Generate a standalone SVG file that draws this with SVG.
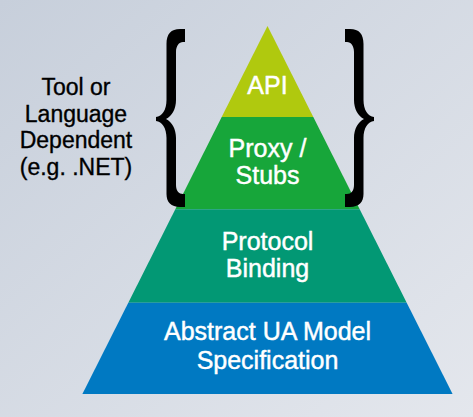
<svg xmlns="http://www.w3.org/2000/svg" width="473" height="417" viewBox="0 0 473 417">
<defs>
<linearGradient id="bg" x1="0" y1="0" x2="1" y2="1">
<stop offset="0" stop-color="#c7cfdb"/>
<stop offset="1" stop-color="#e4e7ed"/>
</linearGradient>
<style>
.lbl{font-family:"Liberation Sans",Arial,sans-serif;font-size:25px;fill:#ffffff;stroke:#ffffff;stroke-width:0.45;text-anchor:middle}
.side{font-family:"Liberation Sans",Arial,sans-serif;font-size:23px;fill:#000000;stroke:#000000;stroke-width:0.35;text-anchor:middle}
.brace{fill:#000000;stroke:none}
</style>
<path id="bracePath" d="M185,29 L180,29 C171,29 166.5,34 166.5,44 L166.5,100 C166.5,110 162,116.5 156,117 L156,121 C162,121.5 166.5,128 166.5,138 L166.5,194 C166.5,202 171,207 180,207 L185,207 L185,194 L183,194 C179,194 176,191 176,185 L176,138 C176,129 172,122 166,119 C172,116 176,109 176,100 L176,52 C176,46 179,42 183,42 L185,42 Z"/>
</defs>
<rect x="0" y="0" width="473" height="417" fill="url(#bg)"/>
<g id="api">
<polygon points="267.5,26 313.3,117 221.7,117" fill="#b0c90e"/>
<text class="lbl" x="267.5" y="94">API</text>
</g>
<g id="proxy">
<polygon points="221.7,117 313.3,117 359.7,209.3 175.3,209.3" fill="#17a63a"/>
<text class="lbl" x="267.5" y="157">Proxy /</text>
<text class="lbl" x="267.5" y="184">Stubs</text>
</g>
<g id="protocol">
<polygon points="175.3,209.3 359.7,209.3 406.7,302.7 128.3,302.7" fill="#029874"/>
<text class="lbl" x="267.5" y="249.5">Protocol</text>
<text class="lbl" x="267.5" y="277">Binding</text>
</g>
<g id="abstract">
<polygon points="128.3,302.7 406.7,302.7 452.6,394 82.4,394" fill="#0079c2"/>
<text class="lbl" x="267.5" y="340">Abstract UA Model</text>
<text class="lbl" x="267.5" y="368.5">Specification</text>
</g>
<g id="left-label">
<text class="side" x="76" y="95">Tool or</text>
<text class="side" x="76" y="121.5">Language</text>
<text class="side" x="76" y="148">Dependent</text>
<text class="side" x="76" y="174.5">(e.g. .NET)</text>
</g>
<g id="connectors">
<use href="#bracePath" class="brace"/>
<use href="#bracePath" class="brace" transform="translate(530,0) scale(-1,1)"/>
</g>
</svg>
